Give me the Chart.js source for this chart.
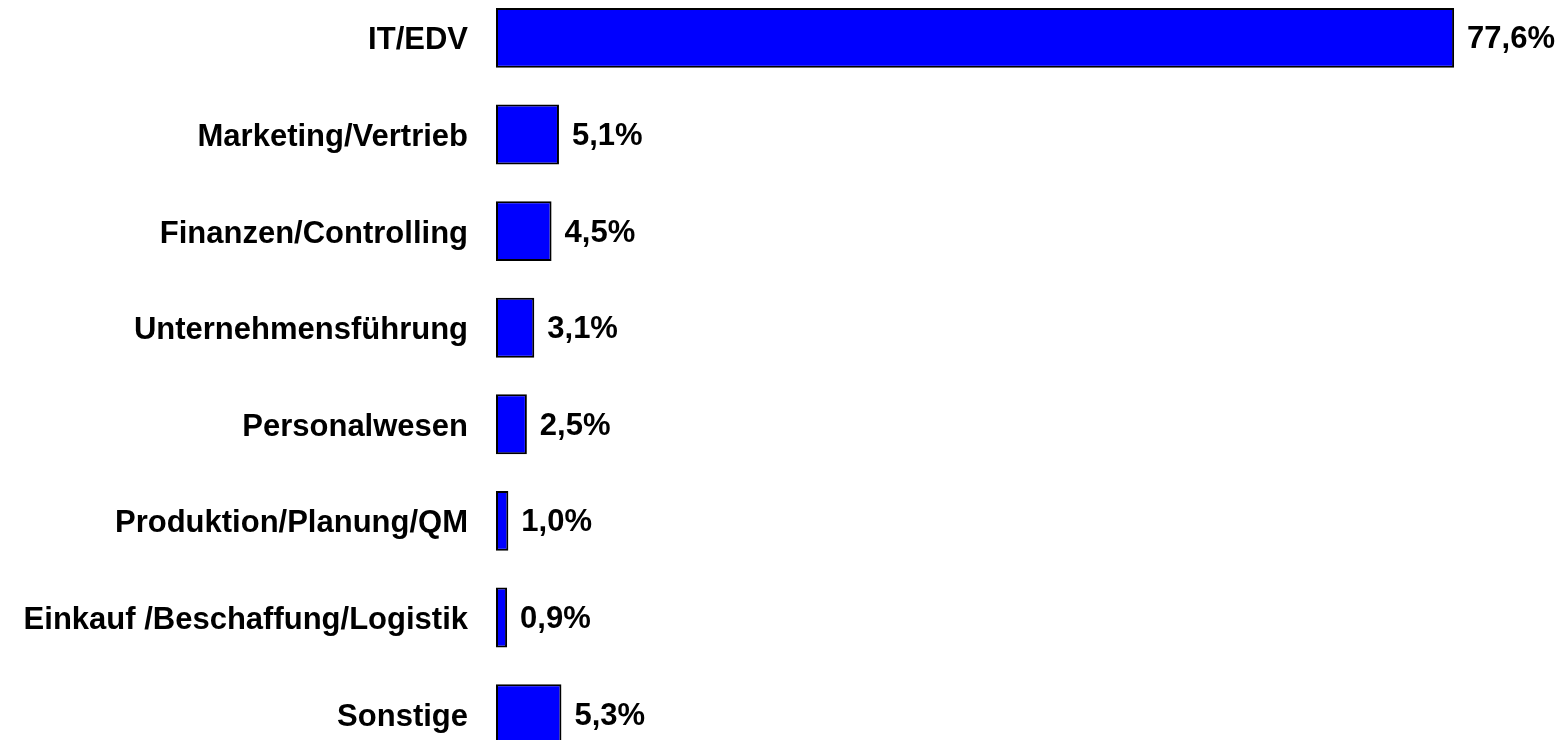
<!DOCTYPE html>
<html>
<head>
<meta charset="utf-8">
<script src="https://cdn.jsdelivr.net/npm/chart.js@4"></script>
<style>
html,body{margin:0;padding:0;background:#fff;overflow:hidden;width:1564px;height:740px;}
#c{position:absolute;left:0;top:-57px;}
</style>
</head>
<body>
<canvas id="c" width="1564" height="866"></canvas>
<script>
const categories = ["IT/EDV","Marketing/Vertrieb","Finanzen/Controlling","Unternehmensführung","Personalwesen","Produktion/Planung/QM","Einkauf /Beschaffung/Logistik","Sonstige"];
const values = [77.6, 5.1, 4.5, 3.1, 2.5, 1.0, 0.9, 5.3];
const valueLabels = ["77,6%","5,1%","4,5%","3,1%","2,5%","1,0%","0,9%","5,3%"];

const FONT = "'Liberation Sans', Arial, sans-serif";

const valuePlugin = {
  id: 'valueLabels',
  afterDatasetsDraw(chart) {
    const ctx = chart.ctx;
    const meta = chart.getDatasetMeta(0);
    ctx.save();
    ctx.font = "bold 31px " + FONT;
    ctx.fillStyle = "#000";
    ctx.textAlign = "left";
    ctx.textBaseline = "middle";
    meta.data.forEach((bar, i) => {
      ctx.fillText(valueLabels[i], bar.x + 13, bar.y + 2);
    });
    ctx.restore();
  }
};

new Chart(document.getElementById('c'), {
  type: 'bar',
  data: {
    labels: categories,
    datasets: [{
      data: values,
      backgroundColor: '#0000FF',
      borderColor: '#000000',
      borderWidth: 2,
      borderSkipped: false,
      barPercentage: 0.62,
      categoryPercentage: 1.0
    }]
  },
  options: {
    indexAxis: 'y',
    responsive: false,
    maintainAspectRatio: false,
    animation: false,
    layout: { padding: 0 },
    plugins: { legend: { display: false }, tooltip: { enabled: false } },
    scales: {
      x: { display: false, min: 0, max: 86.5 },
      y: {
        grid: { display: false, drawTicks: false },
        border: { display: false },
        ticks: { color: '#000', font: { family: FONT, size: 31, weight: 'bold' }, padding: 28, labelOffset: 3 },
        afterFit(scale) { scale.width = 496; }
      }
    }
  },
  plugins: [valuePlugin]
});
</script>
</body>
</html>
